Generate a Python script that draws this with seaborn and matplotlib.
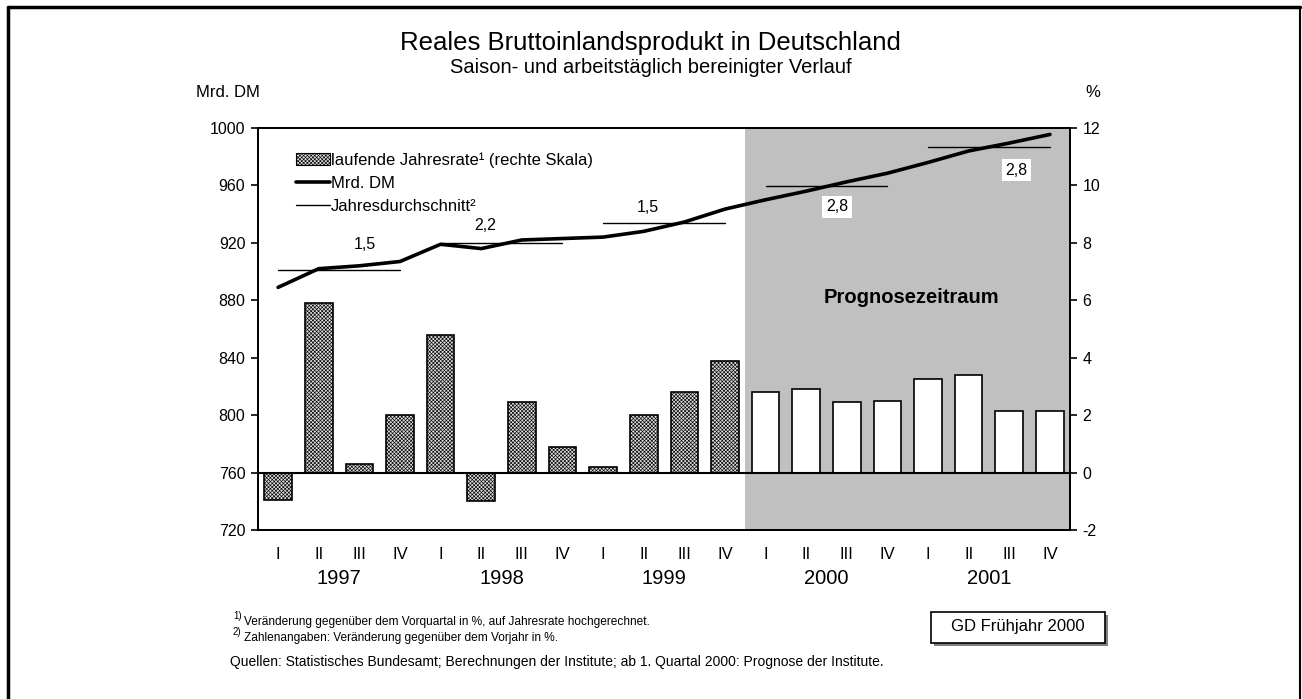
import numpy as np
import pandas as pd
import matplotlib
matplotlib.use('Agg')
import matplotlib.pyplot as plt
import matplotlib.transforms as mtransforms
from matplotlib.patches import Rectangle, Patch
from matplotlib.lines import Line2D
import seaborn as sns

sns.set_theme(style='white')
plt.rcParams['font.family'] = ['Liberation Sans', 'DejaVu Sans']
plt.rcParams['text.color'] = 'black'
plt.rcParams['xtick.color'] = 'black'
plt.rcParams['ytick.color'] = 'black'
plt.rcParams['axes.unicode_minus'] = False
plt.rcParams['hatch.linewidth'] = 0.45
plt.rcParams['hatch.color'] = '#7a7a7a'

# data
years = ['1997', '1998', '1999', '2000', '2001']
quarters = ['I', 'II', 'III', 'IV']
gdp = [889, 902, 904, 907, 919, 916, 922, 923,
       924, 928, 934.5, 943.5, 950, 956, 962.5, 968.5,
       976, 984, 989.5, 995.5]
rate = [-0.95, 5.9, 0.3, 2.0, 4.8, -1.0, 2.45, 0.9,
        0.2, 2.0, 2.8, 3.9, 2.8, 2.9, 2.45, 2.5,
        3.25, 3.4, 2.15, 2.15]
avg_level = [901, 920, 934, 959.5, 987]
avg_label = ['1,5', '2,2', '1,5', '2,8', '2,8']
forecast_from = 12

HATCH = 'xxxxxxxxx'
BAR_GREY = '#dcdcdc'
df = pd.DataFrame({'q': np.arange(len(gdp)), 'gdp': gdp, 'rate': rate})

fig = plt.figure(figsize=(13.02, 6.99), dpi=100)
ax1 = fig.add_axes([0.198, 0.2418, 0.624, 0.5751])
ax2 = ax1.twinx()

# bars on right scale
sns.barplot(data=df, x='q', y='rate', ax=ax2, width=0.68, color='white',
            edgecolor='black', linewidth=1.2, zorder=2)
for i, p in enumerate(ax2.containers[0]):
    if i < forecast_from:
        p.set_facecolor(BAR_GREY)
        p.set_hatch(HATCH)
ax2.axhline(0, color='black', lw=1.5, zorder=3)

# forecast shading (behind the bars)
ax2.axvspan(forecast_from - 0.5, len(gdp) - 0.5, color='#c0c0c0', lw=0, zorder=0)

# GDP line on left scale
sns.lineplot(data=df, x='q', y='gdp', ax=ax1, color='black', lw=2.6, zorder=4)

# yearly averages
for k, lvl in enumerate(avg_level):
    ax1.plot([4 * k, 4 * k + 3], [lvl, lvl], color='black', lw=1, zorder=3)
label_pos = [(2.13, 919), (5.1, 932), (9.1, 944.5), (13.76, 945), (18.17, 970.5)]
for k, (x, y) in enumerate(label_pos):
    box = dict(fc='white', ec='none', pad=2.5) if k >= 3 else None
    ax1.text(x, y, avg_label[k], ha='center', va='center', fontsize=11.5, bbox=box, zorder=5)

ax1.text(15.58, 882, 'Prognosezeitraum', ha='center', va='center', fontsize=14.5,
         fontweight='bold', zorder=5)

# axes
ax1.set_xlim(-0.5, len(gdp) - 0.5)
ax1.set_ylim(720, 1000)
ax1.set_yticks(range(720, 1001, 40))
ax2.set_ylim(-2, 12)
ax2.set_yticks(range(-2, 13, 2))
ax1.set_zorder(ax2.get_zorder() + 1)
ax1.patch.set_visible(False)
for ax in (ax1, ax2):
    ax.set_xlabel('')
    ax.set_ylabel('')

ax1.set_xticks(np.arange(-0.5, len(gdp), 4))
ax1.set_xticklabels([])
ax1.set_xticks(np.arange(len(gdp)), minor=True)
ax1.set_xticklabels(quarters * len(years), minor=True)
ax1.tick_params(axis='x', which='major', direction='out', length=8, width=1.2, color='black')
ax1.tick_params(axis='x', which='minor', length=0, pad=12, labelsize=12)
ax1.tick_params(axis='y', direction='out', length=5, width=1.2, color='black',
                labelsize=11.5, pad=4, left=True)
ax2.tick_params(axis='y', direction='out', length=5, width=1.2, color='black',
                labelsize=11.5, pad=4, right=True)
ax2.tick_params(axis='x', length=0, labelbottom=False)
for ax in (ax1, ax2):
    for s in ax.spines.values():
        s.set_color('black')
        s.set_linewidth(1.3)

trans = mtransforms.blended_transform_factory(ax1.transData, ax1.transAxes)
for k, yr in enumerate(years):
    ax1.text(4 * k + 1.5, -0.12, yr, transform=trans, ha='center', va='center', fontsize=14.5)

# legend
handles = [Patch(facecolor=BAR_GREY, edgecolor='black', hatch=HATCH, lw=0.8),
           Line2D([], [], color='black', lw=2.6),
           Line2D([], [], color='black', lw=1)]
labels = ['laufende Jahresrate¹ (rechte Skala)', 'Mrd. DM', 'Jahresdurchschnitt²']
ax1.legend(handles, labels, loc='upper left', bbox_to_anchor=(0.035, 0.965), frameon=False,
           fontsize=12, handlelength=2.0, handletextpad=0.1, labelspacing=0.5,
           borderaxespad=0.2)

# titles and texts
fig.text(0.4995, 0.938, 'Reales Bruttoinlandsprodukt in Deutschland', ha='center',
         va='center', fontsize=18.5)
fig.text(0.4995, 0.904, 'Saison- und arbeitstäglich bereinigter Verlauf', ha='center',
         va='center', fontsize=14.5)
fig.text(0.175, 0.868, 'Mrd. DM', ha='center', va='center', fontsize=12)
fig.text(0.839, 0.868, '%', ha='center', va='center', fontsize=12)

fig.text(0.179, 0.119, '1)', ha='left', va='center', fontsize=7)
fig.text(0.1875, 0.110, 'Veränderung gegenüber dem Vorquartal in %, auf Jahresrate hochgerechnet.',
         ha='left', va='center', fontsize=8.6)
fig.text(0.179, 0.096, '2)', ha='left', va='center', fontsize=7)
fig.text(0.1875, 0.087, 'Zahlenangaben: Veränderung gegenüber dem Vorjahr in %.',
         ha='left', va='center', fontsize=8.6)
fig.text(0.177, 0.053, 'Quellen: Statistisches Bundesamt; Berechnungen der Institute; '
         'ab 1. Quartal 2000: Prognose der Institute.', ha='left', va='center', fontsize=10)

# "GD Frühjahr 2000" box with shadow
fig.patches.append(Rectangle((934 / 1302, 1 - 646 / 699), 174 / 1302, 31 / 699,
                             transform=fig.transFigure, fc='#808080', ec='none'))
fig.patches.append(Rectangle((931 / 1302, 1 - 643 / 699), 174 / 1302, 31 / 699,
                             transform=fig.transFigure, fc='white', ec='black', lw=1.2))
fig.text(1018 / 1302, 1 - 627 / 699, 'GD Frühjahr 2000', ha='center', va='center', fontsize=12)

# outer frame
fig.add_artist(Line2D([8 / 1302, 8 / 1302], [0, 1 - 7 / 699], transform=fig.transFigure,
                      color='black', lw=2.5))
fig.add_artist(Line2D([8 / 1302, 1300 / 1302], [1 - 7 / 699, 1 - 7 / 699],
                      transform=fig.transFigure, color='black', lw=2.5))
fig.add_artist(Line2D([1300 / 1302, 1300 / 1302], [0, 1 - 7 / 699],
                      transform=fig.transFigure, color='black', lw=1.5))

fig.savefig('out.png', dpi=100)
